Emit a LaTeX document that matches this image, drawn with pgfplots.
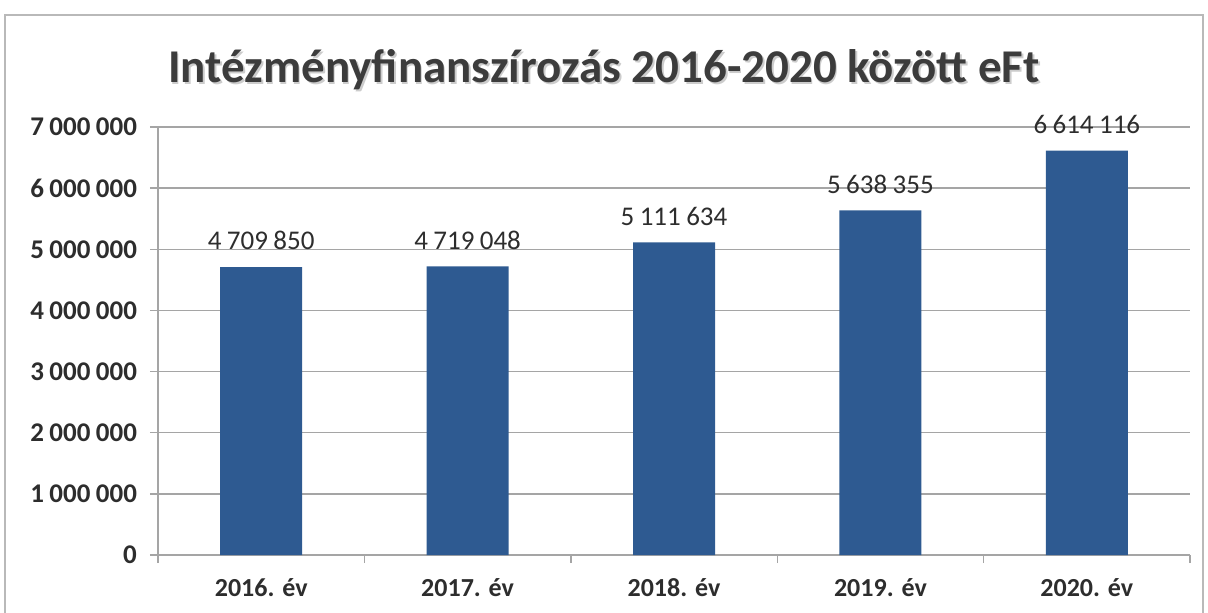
\documentclass[border=0pt]{standalone}
\usepackage{fontspec}
\setmainfont{Carlito}
\usepackage{pgfplots}
\pgfplotsset{compat=1.18}
\definecolor{barblue}{RGB}{46,90,145}
\definecolor{txt}{RGB}{45,45,45}
\definecolor{gridc}{RGB}{165,165,165}
\definecolor{titlec}{RGB}{60,60,60}
\begin{document}
\begin{tikzpicture}
\path[use as bounding box] (0,0) rectangle (604pt,306pt);
\draw[gray!55, line width=0.8pt] (2.5pt,-10pt) -- (2.5pt,298.5pt) -- (601.5pt,298.5pt) -- (601.5pt,-10pt);
\node[font=\bfseries\fontsize{23.5}{27}\selectfont, text=gray!40, xshift=0.8pt, yshift=-0.8pt] at (302pt,271pt) {Intézményfinanszírozás 2016-2020 között eFt};
\node[font=\bfseries\fontsize{23.5}{27}\selectfont, text=titlec] at (302pt,271pt) {Intézményfinanszírozás 2016-2020 között eFt};
\begin{axis}[
  at={(79pt,28.5pt)}, anchor=south west, scale only axis,
  width=516pt, height=214pt,
  xmin=-0.5, xmax=4.5, ymin=0, ymax=7000000,
  axis x line*=bottom, axis y line*=left,
  axis line style={draw=gridc, line width=0.7pt},
  ybar, bar width=41pt,
  xtick={0,1,2,3,4},
  xticklabels={2016. év,2017. év,2018. év,2019. év,2020. év},
  minor xtick={-0.5,0.5,1.5,2.5,3.5,4.5},
  major x tick style={draw=none},
  minor x tick style={draw=gridc, line width=0.7pt},
  ytick={0,1000000,2000000,3000000,4000000,5000000,6000000,7000000},
  y tick style={draw=gridc, line width=0.7pt},
  tick align=outside, major tick length=4pt, minor tick length=4pt,
  ymajorgrids, grid style={draw=gridc, line width=0.7pt},
  scaled y ticks=false,
  /pgf/number format/.cd, fixed, precision=0, 1000 sep={\hspace{0.2em}}, assume math mode=true, /pgfplots/.cd,
  xticklabel style={font=\bfseries\fontsize{13}{15}\selectfont, text=txt, yshift=-4pt},
  yticklabel style={font=\bfseries\fontsize{13.5}{15}\selectfont, text=txt, xshift=-3pt},
  nodes near coords,
  every node near coord/.append style={font=\fontsize{13.5}{15}\selectfont, text=txt, yshift=5pt},
  clip=false,
]
\addplot[fill=barblue, draw=none] coordinates {(0,4709850) (1,4719048) (2,5111634) (3,5638355) (4,6614116)};
\end{axis}
\end{tikzpicture}
\end{document}
